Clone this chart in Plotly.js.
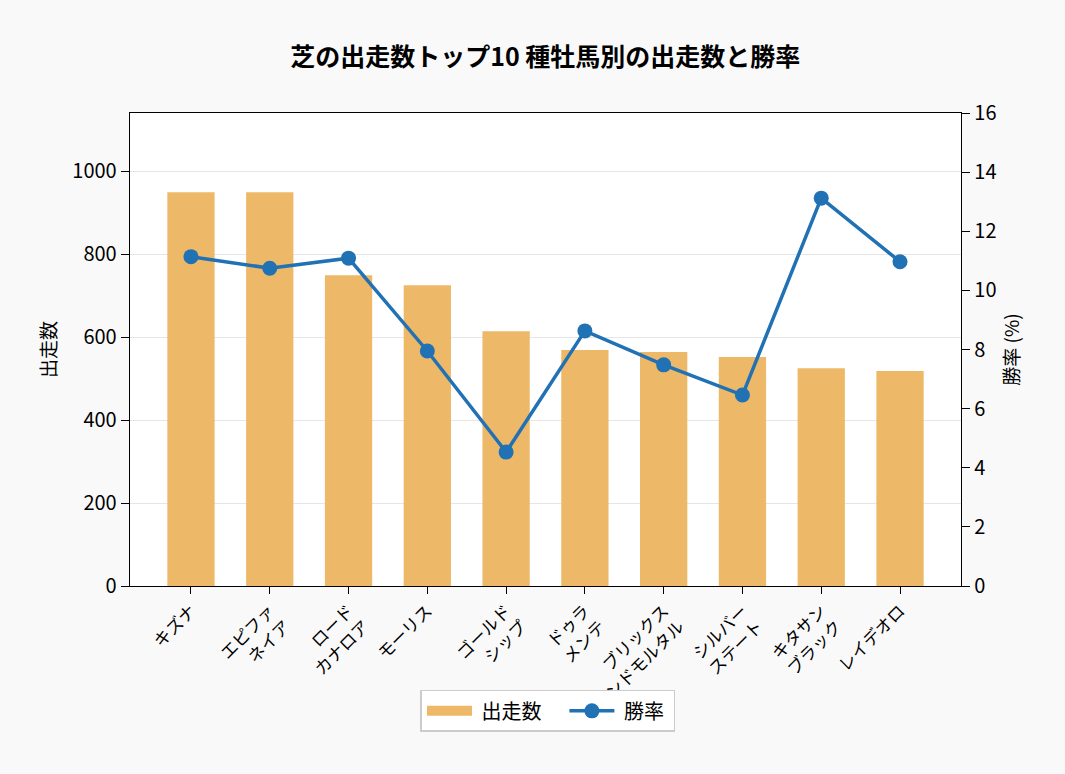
<!DOCTYPE html>
<html>
<head>
<meta charset="utf-8">
<script src="https://cdn.plot.ly/plotly-3.0.1.min.js"></script>
<style>html,body{margin:0;padding:0;background:#f9f9f9;}</style>
</head>
<body>
<div id="chart" style="width:1065px;height:774px;"></div>
<script>
const sires = ["キズナ", "エピファ<br>ネイア", "ロード<br>カナロア", "モーリス", "ゴールド<br>シップ", "ドゥラ<br>メンテ", "ブリックス<br>アンドモルタル", "シルバー<br>ステート", "キタサン<br>ブラック", "レイデオロ"];
const starts = [949, 949, 749, 725, 614, 569, 564, 552, 525, 518];
const winRate = [11.14, 10.75, 11.09, 7.95, 4.53, 8.63, 7.48, 6.46, 13.12, 10.97];
const seriesNames = ["出走数", "勝率"];

const font = "Noto Sans CJK JP, Noto Sans, sans-serif";
const idx = sires.map((_, i) => i);
const barColor = "#EDB867";
const lineColor = "#2171B5";
const sp = "\u00a0";

const traces = [
  {
    type: "bar", x: idx, y: starts, name: seriesNames[0], showlegend: false,
    marker: {color: barColor}, width: 0.6, yaxis: "y"
  },
  {
    // legend entry for the bars, drawn as a wide patch
    type: "scatter", mode: "lines", x: [null], y: [null],
    name: sp + seriesNames[0] + sp + sp + sp + sp,
    line: {color: barColor, width: 15}, yaxis: "y", hoverinfo: "skip"
  },
  {
    type: "scatter", mode: "lines+markers", x: idx, y: winRate, name: sp + seriesNames[1] + sp,
    line: {color: lineColor, width: 3.5}, marker: {color: lineColor, size: 15},
    yaxis: "y2"
  }
];

const layout = {
  width: 1065, height: 774,
  paper_bgcolor: "#f9f9f9", plot_bgcolor: "#ffffff",
  font: {family: font, color: "#000", size: 18},
  margin: {l: 130, r: 104, t: 113, b: 188},
  title: {text: "<b>芝の出走数トップ10 種牡馬別の出走数と勝率</b>", x: 0.512, xanchor: "center", y: 0.926, yanchor: "middle", font: {size: 25, family: font}},
  xaxis: {
    tickmode: "array", tickvals: idx, ticktext: sires, tickangle: -45,
    range: [-0.774, 9.774], showgrid: false, zeroline: false,
    showline: true, linecolor: "#000", linewidth: 1.3, mirror: true,
    ticks: "outside", ticklen: 7, tickcolor: "#000", tickfont: {size: 17}
  },
  yaxis: {
    range: [0, 1140], tickvals: [0, 200, 400, 600, 800, 1000],
    showgrid: true, gridcolor: "#e6e6e6", gridwidth: 1, zeroline: false,
    showline: true, linecolor: "#000", linewidth: 1.3, mirror: true,
    ticks: "outside", ticklen: 8, tickcolor: "#000", tickfont: {size: 20},
    title: {text: "出走数", font: {size: 19}, standoff: 10}
  },
  yaxis2: {
    overlaying: "y", side: "right", range: [0, 16], dtick: 2,
    showgrid: false, zeroline: false, showline: true, linecolor: "#000", linewidth: 1.3,
    ticks: "outside", ticklen: 8, tickcolor: "#000", tickfont: {size: 20},
    title: {text: "勝率 (%)", font: {size: 19}, standoff: 10}
  },
  showlegend: true,
  legend: {
    orientation: "h", x: 0.503, xanchor: "center", y: -0.264, yanchor: "middle",
    bgcolor: "#ffffff", bordercolor: "#cccccc", borderwidth: 1.5,
    font: {size: 20}, itemwidth: 45, traceorder: "normal"
  },
  bargap: 0.4
};

Plotly.newPlot("chart", traces, layout, {displayModeBar: false, staticPlot: true});
</script>
</body>
</html>
